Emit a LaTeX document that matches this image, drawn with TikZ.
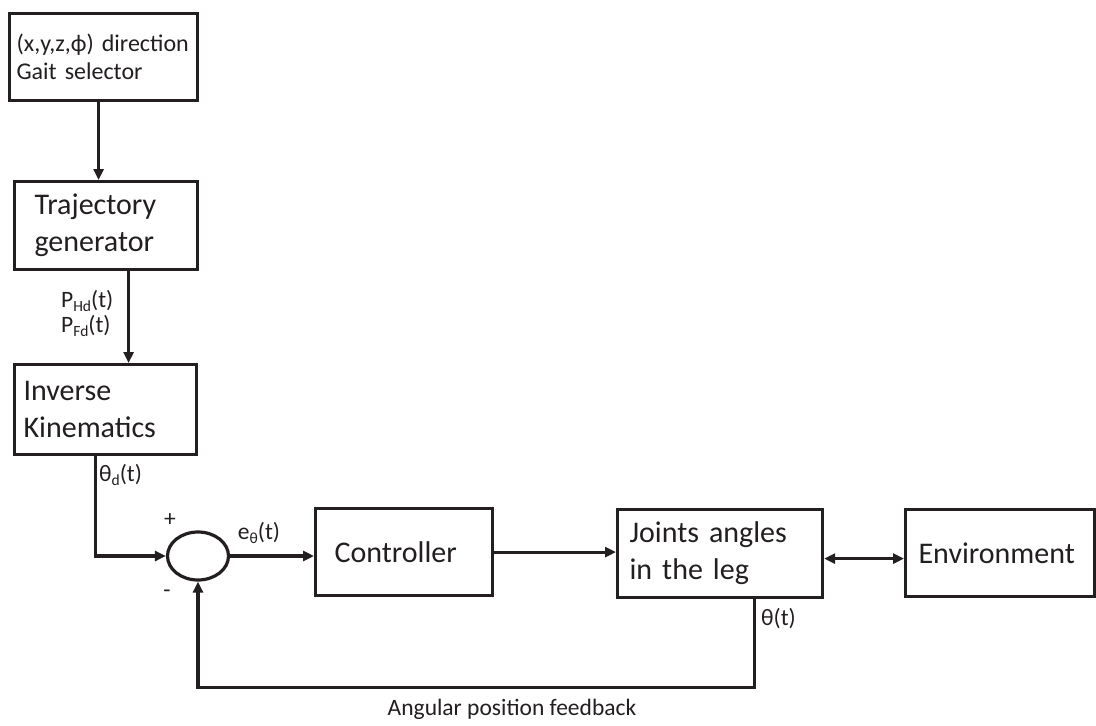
\documentclass[tikz,border=0pt]{standalone}
\usepackage{fontspec}
\setmainfont{Carlito}
\usetikzlibrary{arrows.meta,shapes.geometric}
\definecolor{ink}{RGB}{35,31,32}
\newcommand\lowsub[1]{\raisebox{-0.35ex}{\fontsize{15.5}{15.5}\selectfont #1}}
\begin{document}
\begin{tikzpicture}[x=1pt,y=-1pt,
  box/.style={draw=ink, line width=3.2pt, align=left, anchor=north west, text=ink},
  bigtext/.style={font=\fontsize{30}{37}\selectfont},
  lbl/.style={text=ink, inner sep=0pt, align=left, font=\fontsize{23.5}{25}\selectfont},
  arr/.style={draw=ink, line width=3.2pt, -{Triangle[length=11pt,width=10pt]}},
  darr/.style={draw=ink, line width=3.2pt, {Triangle[length=11pt,width=10pt]}-{Triangle[length=11pt,width=10pt]}}
]
\useasboundingbox (0,0) rectangle (1096,726);
\fill[white] (0,0) rectangle (1096,726);

\node[box, inner xsep=7pt, text width=174pt, minimum height=87pt, font=\fontsize{24}{28}\selectfont] (b1) at (8,12)
  {(x,y,z,ϕ)~direction\\Gait~selector};
\node[box, bigtext, inner xsep=20pt, text width=143pt, minimum height=88pt] (b2) at (13,180)
  {Trajectory\\generator};
\node[box, bigtext, inner xsep=9pt, text width=164pt, minimum height=90pt] (b3) at (13,363)
  {Inverse\\Kinematics};
\node[draw=ink, line width=3.2pt, ellipse, inner sep=0pt, minimum width=61pt, minimum height=48pt] (sum) at (198,556) {};
\node[box, bigtext, inner xsep=19pt, text width=139pt, minimum height=87pt] (ctrl) at (314,507)
  {Controller};
\node[box, bigtext, inner xsep=12pt, text width=181pt, minimum height=88pt] (joint) at (616,508)
  {Joints~angles\\in~the~leg};
\node[box, bigtext, inner xsep=13pt, text width=163pt, minimum height=87pt] (env) at (904,508)
  {Environment};

\node[lbl, anchor=north west] (phd) at (61,290) {P\lowsub{Hd}(t)\\P\lowsub{Fd}(t)};
\node[lbl, anchor=west] (thd) at (99,475) {θ\lowsub{d}(t)};
\node[lbl] (plus) at (170,520) {+};
\node[lbl] (minus) at (167,594) {-};
\node[lbl] (eth) at (259,533) {e\lowsub{θ}(t)};
\node[lbl, anchor=west] (th) at (761,619) {θ(t)};
\node[lbl] (fbl) at (512,709) {Angular position feedback};

\draw[arr] ([xshift=-5pt]b1.south) -- ([xshift=-5pt]b1.south |- b2.north);
\draw[arr] ([xshift=22.5pt]b2.south) -- ([xshift=22.5pt]b2.south |- b3.north);
\draw[arr] ([xshift=-10pt]b3.south) |- (sum.west);
\draw[arr] (sum.east) -- (sum.east -| ctrl.west);
\draw[arr] (ctrl.east) -- (ctrl.east -| joint.west);
\draw[darr] ([yshift=-5pt]joint.east) -- ([yshift=-5pt]joint.east -| env.west);
\draw[arr] ([xshift=34.5pt]joint.south) -- ++(0,88) -| (sum.south);
\end{tikzpicture}
\end{document}
